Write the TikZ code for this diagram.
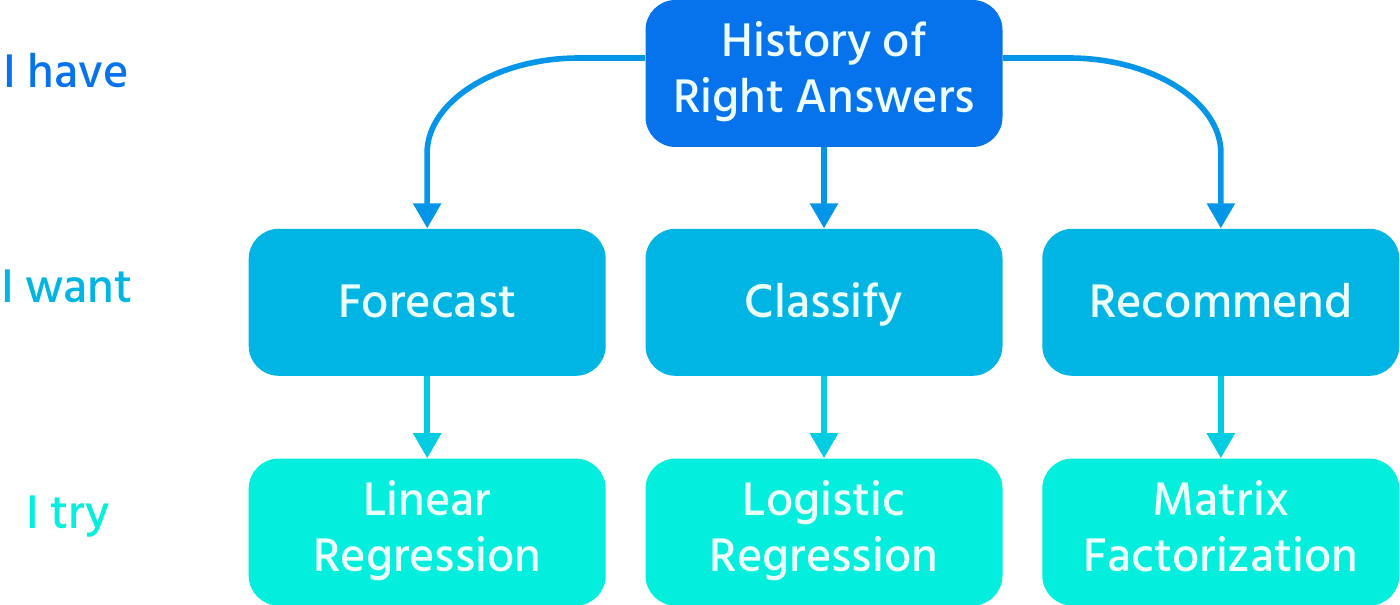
\documentclass[tikz,border=0pt]{standalone}
\usepackage{fontspec}
\setmainfont{Hind Siliguri}[UprightFont=* Medium]
\usepackage{tikz}
\usetikzlibrary{positioning}
\usetikzlibrary{arrows.meta}

\definecolor{topblue}{RGB}{6,114,236}
\definecolor{midblue}{RGB}{0,181,227}
\definecolor{lowcyan}{RGB}{4,238,221}
\definecolor{boxtext}{RGB}{236,255,252}
\definecolor{linkhi}{RGB}{3,150,232}
\definecolor{linklo}{RGB}{0,205,226}

\begin{document}
\begin{tikzpicture}[x=0.5pt, y=-0.5pt,
    box/.style={rounded corners=15pt, minimum width=178.5pt, minimum height=73.5pt,
        inner sep=0pt, align=center, text=boxtext, font=\fontsize{24.2}{28}\selectfont},
    topbox/.style={box, fill=topblue},
    midbox/.style={box, fill=midblue, text height=19.6pt, text depth=4.6pt},
    lowbox/.style={box, fill=lowcyan},
    rowlabel/.style={anchor=base, font=\fontsize{24.2}{28}\selectfont},
    link/.style={line width=2.8pt, -{Triangle[width=13.5pt, length=12.5pt]}},
    curvelink/.style={out distance=42pt, in distance=25.5pt},
    node distance=40.5pt and 19.5pt]
    \useasboundingbox (0,0) rectangle (1400,604);
    \node[topbox] (hist) at (824,73.5) {\strut History of\\Right Answers\strut};
    \node[midbox, below=of hist] (classify) {Classify};
    \node[midbox, left=of classify] (forecast) {Forecast};
    \node[midbox, right=of classify] (recommend) {Recommend};
    \node[lowbox, below=41pt of forecast] (linear) {\strut Linear\\Regression\strut};
    \node[lowbox, below=41pt of classify] (logistic) {\strut Logistic\\Regression\strut};
    \node[lowbox, below=41pt of recommend] (matrix) {\strut Matrix\\Factorization\strut};

    \node[rowlabel, text=topblue] (have) at (66,88) {I have};
    \node[rowlabel, text=midblue] (want) at (67,302) {I want};
    \node[rowlabel, text=lowcyan] (try) at (68,528) {I try};

    \draw[link, linkhi] ([yshift=7.75pt]hist.west) -- ++(-66,0)
        to[out=180, in=90, curvelink] ++(-152,95) -- (forecast.north);
    \draw[link, linkhi] ([yshift=7.75pt]hist.east) -- ++(66,0)
        to[out=0, in=90, curvelink] ++(152,95) -- (recommend.north);
    \draw[link, linkhi] (hist.south) -- (classify.north);
    \draw[link, linklo] (forecast.south) -- (linear.north);
    \draw[link, linklo] (classify.south) -- (logistic.north);
    \draw[link, linklo] (recommend.south) -- (matrix.north);
\end{tikzpicture}
\end{document}
